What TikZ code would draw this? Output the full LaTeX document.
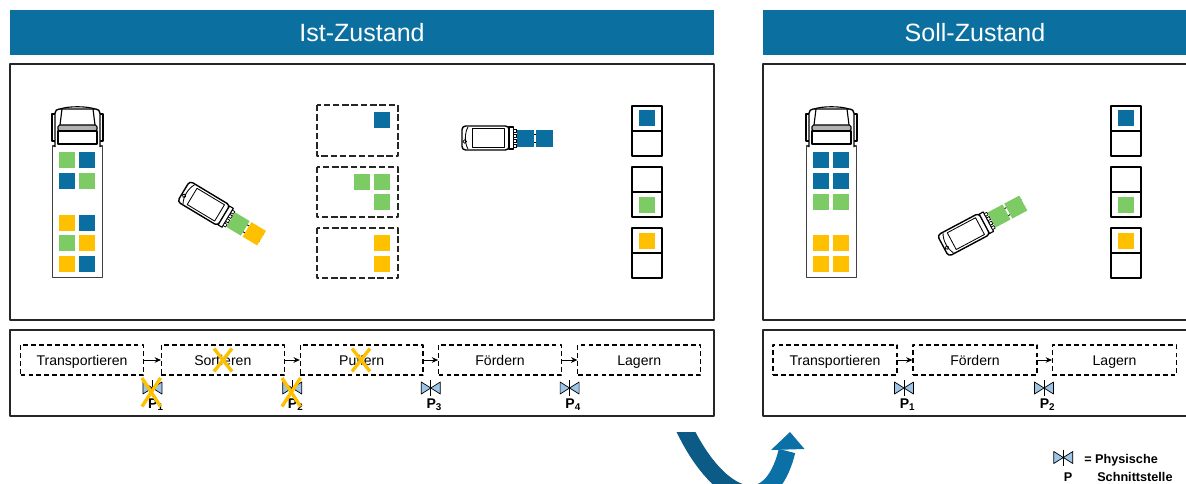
\documentclass[tikz,border=0pt]{standalone}
\usepackage{fontspec}
\setmainfont{Liberation Sans}
\usetikzlibrary{arrows.meta}

\definecolor{hdrblue}{RGB}{11,111,160}
\definecolor{cblue}{RGB}{11,110,160}
\definecolor{cgreen}{RGB}{125,203,101}
\definecolor{cyellow}{RGB}{255,192,0}
\definecolor{valveblue}{RGB}{157,197,232}
\definecolor{arrowdark}{RGB}{12,90,134}
\definecolor{arrowlight}{RGB}{11,112,166}

\tikzset{
  header/.style={fill=hdrblue, text=white, inner sep=0pt,
    font=\fontsize{17.8}{20}\selectfont},
  panel/.style={draw=black!85, line width=1.3pt},
  pbox/.style={draw, dash pattern=on 3.4pt off 2.2pt, line width=0.75pt,
    minimum height=0.75cm, inner sep=0pt, text height=7.2pt, text depth=0pt,
    font=\fontsize{10}{12}\selectfont},
  flow/.style={-{Stealth[length=4.5pt,width=4pt]}, line width=0.7pt},
  plabel/.style={font=\bfseries\fontsize{10}{12}\selectfont, inner sep=0pt},
  legend/.style={font=\bfseries\fontsize{9}{11}\selectfont, inner sep=0pt},
  cross/.style={draw=cyellow, line width=2.4pt},
  zone/.style={draw=black!85, line width=1.2pt, dash pattern=on 4.6pt off 2pt},
  rack/.style={draw=black, line width=1.3pt},
  valve/.pic={
    \draw[fill=valveblue, line width=0.5pt] (-9.5,-6) -- (0,0) -- (-9.5,6) -- cycle;
    \draw[fill=valveblue, line width=0.5pt] (9.5,-6) -- (0,0) -- (9.5,6) -- cycle;
    \draw[line width=0.7pt] (0,-8) -- (0,8);
  },
  truck/.pic={
    % trailer
    \draw[line width=1.1pt, draw=black!75] (0.5,40) rectangle (50.5,171.5);
    % mirrors
    \draw[line width=0.8pt, fill=white] (0,8) rectangle (3.5,35);
    \draw[line width=0.8pt, fill=white] (47.5,8) rectangle (51,35);
    % cab shell
    \draw[line width=1pt, fill=white, rounded corners=3pt] (3,41) -- (3,3) -- (48,3) -- (48,41);
    \draw[line width=0.8pt] (8,3) .. controls (16,0) and (35,0) .. (43,3);
    \draw[line width=0.8pt] (10,3) -- (8,19) (41,3) -- (43,19);
    % dashboard band and lower cab
    \draw[line width=0.8pt, fill=black!30, rounded corners=1.2pt] (6,19) rectangle (45,25);
    \draw[line width=0.8pt] (6,25) rectangle (45,38);
  },
  forklift/.pic={
    % forks
    \draw[line width=0.6pt] (4,-4) -- (43,-4) (4,4) -- (43,4);
    % chassis
    \draw[line width=1pt, fill=white, rounded corners=2.5pt] (-48,-12) rectangle (-1,12);
    \draw[line width=0.6pt] (-38,-9.5) rectangle (-6,9.5);
    \draw[line width=0.6pt] (-42,-11) .. controls (-45.5,-5) and (-45.5,5) .. (-42,11);
    \draw[line width=0.6pt] (-45.3,3.5) circle (1.3pt);
    % mast with rollers
    \draw[line width=0.8pt, fill=white] (-1,-11) rectangle (3.5,11);
    \foreach \q in {-9,-4,1,6} \draw[line width=0.5pt, fill=white] (3.5,\q) rectangle (6.5,\q+3);
  }
}

\begin{document}
\begin{tikzpicture}[x=0.025cm, y=-0.025cm, line join=round]
\useasboundingbox (0,0) rectangle (1186,483);
\clip (0,0) rectangle (1186,483);

% ---------- headers ----------
\node[header, minimum width=17.6cm, minimum height=1.125cm] (istH) at (362,32.5) {Ist-Zustand};
\node[header, minimum width=10.6cm, minimum height=1.125cm] (sollH) at (975,32.5) {Soll-Zustand};

% ---------- panels ----------
\draw[panel] (10,64) rectangle (714,320);
\draw[panel] (763,64) rectangle (1200,320);
\draw[panel] (10,330) rectangle (714,416);
\draw[panel] (763,330) rectangle (1200,416);

% ---------- Ist: truck ----------
\pic[transform shape] at (52,106) {truck};
\fill[cgreen]  (59,152) rectangle ++(16,16);
\fill[cblue]   (79,152) rectangle ++(16,16);
\fill[cblue]   (59,173) rectangle ++(16,16);
\fill[cgreen]  (79,173) rectangle ++(16,16);
\fill[cyellow] (59,215) rectangle ++(16,16);
\fill[cblue]   (79,215) rectangle ++(16,16);
\fill[cgreen]  (59,235) rectangle ++(16,16);
\fill[cyellow] (79,235) rectangle ++(16,16);
\fill[cyellow] (59,256) rectangle ++(16,16);
\fill[cblue]   (79,256) rectangle ++(16,16);

% ---------- Ist: forklift with mixed load ----------
\begin{scope}[shift={(224.7,216)}, rotate=-31]
  \pic[transform shape] at (0,0) {forklift};
  \fill[cgreen]  (7,-8.5) rectangle (24,8.5);
  \fill[cyellow] (26,-8.5) rectangle (43,8.5);
\end{scope}

% ---------- Ist: sorting zones ----------
\draw[zone] (316.7,105) rectangle (397.7,156);
\draw[zone] (316.7,166.7) rectangle (397.7,217.3);
\draw[zone] (316.7,227.7) rectangle (397.7,278.3);
\fill[cblue]   (374,111.7) rectangle ++(16,16);
\fill[cgreen]  (354,174) rectangle ++(16,16);
\fill[cgreen]  (374,174) rectangle ++(16,16);
\fill[cgreen]  (374,194) rectangle ++(16,16);
\fill[cyellow] (374,235) rectangle ++(16,16);
\fill[cyellow] (374,256) rectangle ++(16,16);

% ---------- Ist: forklift with blue load ----------
\begin{scope}[shift={(510,138)}]
  \pic[transform shape] at (0,0) {forklift};
  \fill[cblue] (7,-8.5) rectangle (24,8.5);
  \fill[cblue] (26,-8.5) rectangle (43,8.5);
\end{scope}

% ---------- Ist: racks ----------
\draw[rack] (632.3,105.7) rectangle (662.3,130.7) rectangle (632.3,156);
\draw[rack] (632.3,166.7) rectangle (662.3,192) rectangle (632.3,217.3);
\draw[rack] (632.3,227.7) rectangle (662.3,253) rectangle (632.3,278.3);
\fill[cblue]   (639,110) rectangle ++(16,16);
\fill[cgreen]  (639,197.3) rectangle ++(16,16);
\fill[cyellow] (639,232.7) rectangle ++(16,16);

% ---------- Soll: truck ----------
\pic[transform shape] at (806,106) {truck};
\fill[cblue]   (813,152) rectangle ++(16,16);
\fill[cblue]   (833,152) rectangle ++(16,16);
\fill[cblue]   (813,173) rectangle ++(16,16);
\fill[cblue]   (833,173) rectangle ++(16,16);
\fill[cgreen]  (813,194) rectangle ++(16,16);
\fill[cgreen]  (833,194) rectangle ++(16,16);
\fill[cyellow] (813,235) rectangle ++(16,16);
\fill[cyellow] (833,235) rectangle ++(16,16);
\fill[cyellow] (813,256) rectangle ++(16,16);
\fill[cyellow] (833,256) rectangle ++(16,16);

% ---------- Soll: forklift ----------
\begin{scope}[shift={(985.3,223.3)}, rotate=28]
  \pic[transform shape] at (0,0) {forklift};
  \fill[cgreen] (7,-8.5) rectangle (24,8.5);
  \fill[cgreen] (26,-8.5) rectangle (43,8.5);
\end{scope}

% ---------- Soll: racks ----------
\draw[rack] (1111,105.7) rectangle (1141,130.7) rectangle (1111,156);
\draw[rack] (1111,166.7) rectangle (1141,192) rectangle (1111,217.3);
\draw[rack] (1111,227.7) rectangle (1141,253) rectangle (1111,278.3);
\fill[cblue]   (1118,110) rectangle ++(16,16);
\fill[cgreen]  (1118,197.3) rectangle ++(16,16);
\fill[cyellow] (1118,232.7) rectangle ++(16,16);

% ---------- Ist: process chain ----------
\node[pbox, minimum width=3.065cm] (i1) at (82,360) {Transportieren};
\node[pbox, minimum width=3.065cm] (i2) at (222.8,360) {Sortieren};
\node[pbox, minimum width=3.065cm] (i3) at (361.7,360) {Puffern};
\node[pbox, minimum width=3.065cm] (i4) at (500,360) {Fördern};
\node[pbox, minimum width=3.065cm] (i5) at (639.2,360) {Lagern};
\draw[flow] (i1.east) -- (i2.west);
\draw[flow] (i2.east) -- (i3.west);
\draw[flow] (i3.east) -- (i4.west);
\draw[flow] (i4.east) -- (i5.west);

\pic at (152.4,388) {valve};
\pic at (292.2,388) {valve};
\pic at (430.8,388) {valve};
\pic at (569.6,388) {valve};
\node[plabel, anchor=base west] (ip1) at (147.9,408) {P\textsubscript{1}};
\node[plabel, anchor=base west] (ip2) at (287.7,408) {P\textsubscript{2}};
\node[plabel, anchor=base west] (ip3) at (426.3,408) {P\textsubscript{3}};
\node[plabel, anchor=base west] (ip4) at (565.1,408) {P\textsubscript{4}};

% dropped steps and interfaces
\draw[cross] (214,348.5) -- (232,371.5) (232,348.5) -- (214,371.5);
\draw[cross] (352,348.5) -- (370,371.5) (370,348.5) -- (352,371.5);
\draw[cross] (142,378) -- (160.5,406.5) (160.5,378) -- (142,406.5);
\draw[cross] (282,378) -- (300.5,406.5) (300.5,378) -- (282,406.5);

% ---------- Soll: process chain ----------
\node[pbox, minimum width=3.1cm] (s1) at (835,360) {Transportieren};
\node[pbox, minimum width=3.1cm] (s2) at (975,360) {Fördern};
\node[pbox, minimum width=3.1cm] (s3) at (1114.5,360) {Lagern};
\draw[flow] (s1.east) -- (s2.west);
\draw[flow] (s2.east) -- (s3.west);

\pic at (904,388) {valve};
\pic at (1044,388) {valve};
\node[plabel, anchor=base west] (sp1) at (899.5,408) {P\textsubscript{1}};
\node[plabel, anchor=base west] (sp2) at (1039.5,408) {P\textsubscript{2}};

% ---------- transition arrow ----------
\begin{scope}
  \clip (600,432.5) rectangle (760,500);
  \draw[arrowdark, line width=12pt] (676,412) -- (686,432)
    .. controls (703,466) and (724,488) .. (742.9,492.9);
\end{scope}
\draw[arrowlight, line width=12pt] (742.9,492.9)
  .. controls (761.75,497.75) and (778.5,485.5) .. (787,451);
\fill[arrowlight] (771,450) -- (790,432) -- (804.5,449) -- cycle;

% ---------- legend ----------
\pic at (1063.3,457.5) {valve};
\node[legend, anchor=base] (lp) at (1068,481.5) {P};
\node[legend, anchor=base west] (l1) at (1084,463) {= Physische};
\node[legend, anchor=base west] (l2) at (1097,481.5) {Schnittstelle};
\end{tikzpicture}
\end{document}
